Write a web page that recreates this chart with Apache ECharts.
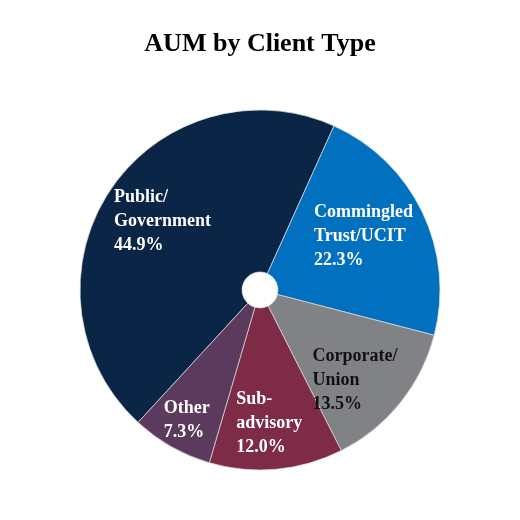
<!DOCTYPE html>
<html>
<head>
<meta charset="utf-8">
<script src="https://cdn.jsdelivr.net/npm/echarts@6/dist/echarts.min.js"></script>
<style>
html,body{margin:0;padding:0;background:#fff;}
#chart{width:520px;height:520px;}
</style>
</head>
<body>
<div id="chart"></div>
<script>
const categories = ['Public/\nGovernment', 'Commingled\nTrust/UCIT', 'Corporate/\nUnion', 'Sub-\nadvisory', 'Other'];
const shares = [44.9, 22.3, 13.5, 12.0, 7.3];

const colors = ['#0b2546', '#0070bf', '#808285', '#7e2b48', '#5b3a5d'];
const labelColors = ['#ffffff', '#ffffff', '#111111', '#ffffff', '#ffffff'];
const labelShift = [[-61, -12], [-38, -10], [-27, 26], [-33, 32], [-46, 42]];

const chart = echarts.init(document.getElementById('chart'), null, {renderer: 'canvas'});
chart.setOption({
  animation: false,
  backgroundColor: '#ffffff',
  title: {
    text: 'AUM by Client Type',
    left: 'center',
    top: 26,
    textStyle: {fontFamily: 'Liberation Serif', fontWeight: 'bold', fontSize: 26, color: '#000000'}
  },
  series: [{
    type: 'pie',
    center: [260, 290],
    radius: [18, 180],
    startAngle: 227.36,
    clockwise: true,
    avoidLabelOverlap: false,
    itemStyle: {borderColor: '#e0e0e0', borderWidth: 0.7},
    label: {
      show: true,
      position: 'inside',
      fontFamily: 'Liberation Serif',
      fontWeight: 'bold',
      fontSize: 18,
      lineHeight: 24,
      formatter: p => p.name + '\n' + p.value.toFixed(1) + '%'
    },
    labelLine: {show: false},
    labelLayout: function (params) {
      const s = labelShift[params.dataIndex];
      return {dx: s[0], dy: s[1], align: 'left', verticalAlign: 'middle'};
    },
    emphasis: {disabled: true},
    data: categories.map((c, i) => ({
      name: c,
      value: shares[i],
      itemStyle: {color: colors[i]},
      label: {color: labelColors[i]}
    }))
  }]
});
</script>
</body>
</html>
